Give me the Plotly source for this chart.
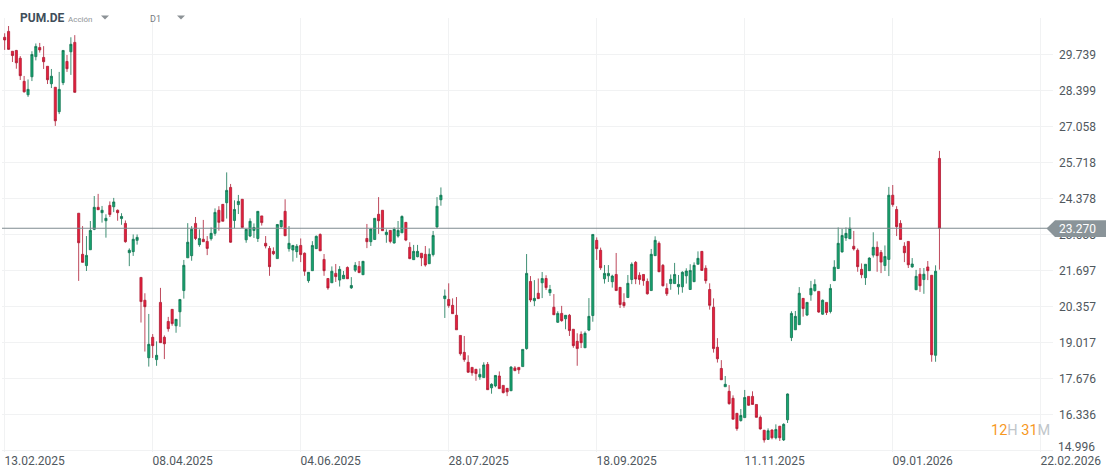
import plotly.graph_objects as go

# daily candles
opens = [
    30.38, 30.60, 29.86, 29.89, 29.60, 28.74, 28.24, 28.91, 29.66, 30.00,
    29.63, 29.30, 28.65, 28.52, 27.61, 28.69, 29.48, 29.84, 30.19, 23.83,
    22.30, 21.88, 22.47, 23.23, 24.05, 23.85, 23.55, 24.12, 24.07, 23.94,
    23.63, 23.45, 22.36, 22.40, 22.82, 21.44, 20.59, 18.45, 19.21, 18.38,
    20.51, 19.21, 19.80, 20.25, 19.64, 20.16, 20.95, 22.17, 22.25, 23.45,
    22.66, 22.86, 22.78, 22.88, 23.08, 23.94, 24.16, 24.22, 24.79, 23.56,
    24.15, 24.35, 22.84, 22.98, 23.19, 22.89, 23.73, 22.71, 22.52, 22.41,
    22.14, 23.33, 23.90, 22.51, 22.46, 22.40, 22.63, 22.34, 21.32, 21.69,
    22.51, 23.04, 22.11, 21.40, 21.24, 21.59, 21.34, 21.39, 21.81, 21.05,
    21.71, 21.85, 21.54, 22.89, 22.77, 22.85, 23.79, 23.94, 23.03, 23.19,
    22.72, 22.98, 23.10, 23.49, 22.56, 22.10, 22.21, 22.34, 22.30, 21.95,
    22.29, 23.32, 24.33, 20.65, 20.62, 20.40, 20.03, 19.28, 18.65, 18.28,
    18.09, 18.02, 17.73, 17.71, 18.20, 17.33, 17.40, 17.77, 17.42, 17.31,
    17.22, 18.07, 18.09, 18.12, 18.79, 21.29, 20.57, 20.85, 21.24, 21.40,
    20.87, 20.33, 19.77, 20.10, 19.90, 20.03, 19.51, 19.06, 19.32, 18.82,
    19.48, 20.02, 22.82, 22.45, 21.39, 21.50, 21.28, 21.55, 21.07, 20.51,
    20.69, 21.36, 22.00, 21.52, 21.55, 21.29, 20.95, 22.25, 22.71, 21.89,
    21.03, 21.21, 21.21, 21.09, 21.09, 21.50, 20.99, 21.28, 21.93, 22.41,
    21.78, 20.99, 20.33, 18.84, 18.05, 17.37, 17.20, 16.94, 16.38, 16.11,
    16.22, 17.01, 17.01, 16.71, 16.23, 15.75, 15.41, 15.76, 15.47, 15.90,
    15.39, 16.14, 19.20, 19.49, 19.68, 20.66, 20.04, 20.79, 20.95, 20.92,
    20.07, 20.51, 20.17, 21.32, 21.77, 22.39, 22.91, 22.88, 22.60, 22.45,
    21.74, 21.43, 21.69, 22.27, 22.56, 22.37, 21.88, 22.11, 24.50, 23.97,
    23.45, 22.60, 22.78, 21.83, 20.98, 21.56, 21.36, 21.83, 21.52, 18.54,
    25.87,
]
highs = [
    30.53, 30.80, 29.86, 29.91, 29.68, 28.94, 28.81, 29.86, 30.15, 30.17,
    30.05, 29.30, 29.20, 28.52, 29.09, 29.89, 29.72, 30.38, 30.46, 23.83,
    23.35, 22.98, 23.54, 24.47, 24.55, 24.10, 23.79, 24.27, 24.40, 23.97,
    23.83, 23.56, 22.52, 23.04, 23.04, 21.44, 20.85, 20.08, 19.33, 19.06,
    21.05, 19.28, 19.97, 20.25, 19.88, 20.62, 22.09, 23.46, 23.35, 23.69,
    23.23, 23.58, 22.98, 23.30, 24.01, 24.09, 24.16, 25.35, 24.92, 24.31,
    24.51, 24.35, 23.23, 23.64, 23.45, 23.90, 23.73, 22.98, 22.61, 22.56,
    23.43, 23.58, 24.35, 23.35, 22.65, 22.68, 22.89, 22.37, 21.64, 22.79,
    23.00, 23.08, 22.31, 21.40, 21.85, 21.94, 21.86, 21.68, 21.85, 21.45,
    22.01, 22.05, 22.04, 23.43, 23.27, 23.64, 24.43, 23.94, 23.23, 23.20,
    23.30, 23.54, 23.75, 23.49, 22.75, 22.65, 22.65, 22.34, 22.61, 22.52,
    23.17, 24.43, 24.79, 20.99, 21.22, 20.66, 20.71, 19.28, 19.26, 18.54,
    18.09, 18.02, 18.05, 18.28, 18.29, 17.50, 17.80, 17.94, 17.42, 17.32,
    18.14, 18.14, 18.09, 18.76, 22.31, 21.49, 21.34, 21.40, 21.64, 21.52,
    21.16, 20.82, 20.18, 20.38, 20.04, 20.08, 19.51, 19.36, 19.43, 19.43,
    20.67, 23.04, 22.93, 22.55, 21.90, 21.90, 21.54, 22.35, 21.07, 20.85,
    21.53, 22.00, 22.05, 21.63, 21.55, 21.40, 22.50, 22.97, 22.78, 21.94,
    21.22, 21.55, 21.98, 21.53, 21.67, 21.78, 21.93, 22.00, 22.41, 22.41,
    21.89, 21.22, 20.66, 19.18, 18.36, 17.77, 17.43, 17.05, 16.38, 16.54,
    17.25, 17.01, 17.20, 16.71, 16.30, 15.76, 15.82, 15.78, 15.97, 15.91,
    16.01, 17.12, 20.18, 20.19, 21.08, 20.66, 20.52, 21.31, 21.37, 20.92,
    20.62, 20.51, 21.19, 22.08, 23.30, 23.25, 23.30, 23.68, 23.17, 22.52,
    21.96, 21.93, 22.19, 23.12, 22.78, 22.46, 22.63, 24.81, 24.88, 24.09,
    23.57, 22.75, 22.78, 22.16, 21.72, 21.79, 21.79, 22.05, 21.52, 21.89,
    26.15,
]
lows = [
    29.91, 29.91, 29.46, 29.21, 28.79, 28.32, 28.16, 28.75, 29.52, 29.81,
    29.20, 28.64, 28.49, 27.08, 27.52, 28.60, 29.09, 28.98, 28.32, 21.31,
    21.99, 21.68, 22.47, 23.20, 23.95, 23.48, 22.92, 23.69, 23.87, 23.55,
    23.40, 22.73, 21.86, 22.24, 22.66, 19.76, 18.68, 18.12, 18.44, 18.15,
    19.01, 18.40, 19.42, 19.64, 19.38, 19.60, 20.65, 22.17, 22.06, 22.83,
    22.58, 22.77, 22.27, 22.81, 22.99, 23.18, 23.53, 23.63, 22.73, 23.27,
    23.80, 23.30, 22.73, 22.94, 22.91, 22.76, 23.37, 22.52, 21.50, 22.27,
    22.14, 23.29, 22.99, 22.40, 22.03, 22.17, 22.01, 21.50, 21.24, 21.69,
    22.50, 22.43, 21.50, 20.98, 21.24, 21.27, 21.10, 21.38, 21.38, 21.01,
    21.64, 21.60, 21.54, 22.53, 22.61, 22.85, 23.06, 23.18, 22.73, 22.71,
    22.70, 22.92, 23.10, 22.79, 22.12, 22.10, 22.19, 21.86, 21.84, 21.95,
    22.22, 23.27, 24.11, 19.93, 20.31, 20.09, 19.49, 18.53, 18.30, 17.89,
    17.78, 17.59, 17.63, 17.71, 17.26, 17.11, 17.35, 17.30, 17.12, 17.02,
    17.22, 17.95, 17.85, 18.12, 18.75, 20.52, 20.37, 20.64, 20.67, 20.97,
    20.75, 20.05, 19.75, 19.79, 19.51, 19.26, 18.82, 18.15, 18.81, 18.82,
    19.44, 19.79, 22.09, 21.72, 21.21, 21.27, 21.06, 20.95, 20.30, 20.31,
    20.69, 21.19, 21.19, 21.17, 21.13, 20.80, 20.95, 22.25, 21.65, 21.10,
    20.75, 20.98, 21.21, 20.80, 20.87, 21.21, 20.99, 21.28, 21.93, 21.70,
    21.21, 20.24, 18.64, 18.27, 17.62, 17.37, 16.70, 16.16, 15.73, 16.07,
    16.22, 16.66, 16.71, 16.23, 15.77, 15.29, 15.39, 15.41, 15.41, 15.35,
    15.35, 16.02, 19.07, 19.49, 19.68, 19.98, 20.00, 20.57, 20.91, 20.12,
    20.05, 20.04, 20.10, 21.32, 21.77, 22.36, 22.80, 22.88, 22.44, 21.65,
    21.41, 21.16, 21.69, 22.18, 21.65, 21.60, 21.68, 21.49, 24.07, 22.98,
    22.85, 22.01, 21.79, 21.80, 20.98, 20.90, 20.83, 21.34, 18.30, 18.30,
    21.73,
]
closes = [
    30.28, 29.93, 29.70, 29.43, 28.95, 28.35, 28.44, 29.74, 30.04, 29.91,
    29.47, 28.80, 28.93, 27.27, 28.44, 29.89, 29.21, 30.12, 28.33, 22.73,
    22.00, 22.26, 23.19, 24.05, 23.96, 23.94, 23.64, 23.78, 24.25, 23.85,
    23.71, 22.77, 22.45, 22.86, 22.93, 20.54, 20.35, 18.95, 18.90, 18.54,
    19.01, 18.97, 19.53, 19.72, 19.88, 20.62, 21.89, 22.75, 23.23, 22.89,
    22.89, 22.77, 22.52, 23.08, 23.86, 23.49, 23.53, 24.68, 22.75, 23.97,
    24.27, 23.30, 23.23, 23.53, 23.30, 23.90, 23.48, 22.61, 21.84, 22.32,
    23.41, 23.56, 22.99, 22.71, 22.63, 22.60, 22.29, 21.67, 21.63, 22.63,
    22.97, 22.43, 21.69, 21.05, 21.67, 21.47, 21.74, 21.52, 21.39, 21.14,
    21.89, 21.62, 22.04, 22.77, 23.24, 23.64, 23.55, 23.18, 23.12, 22.78,
    23.23, 23.19, 23.71, 22.83, 22.14, 22.41, 22.41, 22.17, 21.90, 22.30,
    23.00, 24.09, 24.50, 20.75, 20.39, 20.09, 19.49, 18.60, 18.38, 17.91,
    17.89, 17.86, 17.83, 18.18, 17.26, 17.46, 17.79, 17.30, 17.15, 17.18,
    18.10, 17.97, 18.00, 18.76, 21.59, 20.60, 20.66, 20.65, 21.40, 21.06,
    20.99, 20.05, 20.10, 19.83, 20.03, 19.46, 18.90, 18.79, 19.01, 19.36,
    19.99, 23.04, 22.51, 21.80, 21.59, 21.59, 21.49, 20.95, 20.43, 20.39,
    21.22, 21.93, 21.38, 21.36, 21.32, 20.83, 22.30, 22.82, 21.65, 21.13,
    20.83, 21.37, 21.55, 21.18, 21.63, 21.68, 21.70, 21.89, 22.15, 21.70,
    21.32, 20.40, 18.79, 18.41, 17.63, 17.46, 16.74, 16.16, 15.81, 16.30,
    16.97, 16.68, 16.71, 16.23, 15.80, 15.39, 15.73, 15.47, 15.78, 15.47,
    15.97, 17.10, 20.10, 19.99, 20.85, 20.28, 20.51, 21.03, 21.18, 20.15,
    20.59, 20.13, 21.03, 21.82, 22.71, 23.00, 23.08, 23.27, 22.50, 21.84,
    21.54, 21.93, 22.16, 22.56, 22.25, 22.01, 22.22, 24.50, 24.15, 23.33,
    22.85, 22.36, 21.91, 21.94, 21.48, 21.13, 21.56, 21.69, 18.56, 21.67,
    23.27,
]

date_ticks = [0, 38, 76, 114, 152, 190, 228, 266]
date_labels = ['13.02.2025', '08.04.2025', '04.06.2025', '28.07.2025',
               '18.09.2025', '11.11.2025', '09.01.2026', '22.02.2026']
price_ticks = [29.739, 28.399, 27.058, 25.718, 24.378, 23.038,
               21.697, 20.357, 19.017, 17.676, 16.336, 14.996]
price_labels = ['29.739', '28.399', '27.058', '25.718', '24.378', '23.038',
                '21.697', '20.357', '19.017', '17.676', '16.336', '']
last_price = 23.270
bottom_label = '14.996'

W, H = 1119, 476
LEFT, RIGHT, TOP, BOTTOM = 2, 1053, 18, 452
GRID = '#f1f2f3'
TEXT = '#50585e'
TAG = '#8a9499'


# screen pixels to paper fractions, for the bits of chrome around the chart
def px(x):
    return (x - LEFT) / (RIGHT - LEFT)


def py(y):
    return (BOTTOM - y) / (BOTTOM - TOP)


def poly(points):
    return 'M' + ' L'.join(f'{px(x):.5f},{py(y):.5f}' for x, y in points) + ' Z'


fig = go.Figure(go.Candlestick(
    x=list(range(len(opens))),
    open=opens, high=highs, low=lows, close=closes,
    whiskerwidth=0,
    increasing=dict(fillcolor='#17a56f', line=dict(color='#0f7350', width=0.8)),
    decreasing=dict(fillcolor='#e81f3c', line=dict(color='#ad1c33', width=0.8)),
    hoverinfo='skip',
))

# white box behind the symbol header, hides the gridlines there
fig.add_shape(type='rect', xref='paper', yref='paper', layer='between',
              x0=px(12), x1=px(200), y0=py(32), y1=py(TOP - 1),
              fillcolor='white', line_width=0)

# last price line and its tag
fig.add_shape(type='line', xref='paper', yref='y', x0=0, x1=px(1048),
              y0=last_price, y1=last_price, line=dict(color='#7f8b90', width=1.1))
fig.add_shape(type='path', xref='paper', yref='paper', layer='above',
              path=poly([(1046.5, 228.6), (1055, 220.3), (1106, 220.3), (1106, 237), (1055, 237)]),
              fillcolor=TAG, line_width=0)

# dropdown triangles
for x0 in [101, 177]:
    fig.add_shape(type='path', xref='paper', yref='paper', layer='above',
                  path=poly([(x0, 15.5), (x0 + 8, 15.5), (x0 + 4, 19.5)]),
                  fillcolor='#8c9296', line_width=0)


def label(x, y, text, size, color, anchor='left', bold=False):
    fig.add_annotation(xref='paper', yref='paper', x=px(x), y=py(y), text=text,
                       showarrow=False, xanchor=anchor, yanchor='middle',
                       xshift=0, borderpad=0, borderwidth=0,
                       font=dict(family='Roboto', size=size, color=color,
                                 weight='bold' if bold else 'normal'))


label(20, 18.5, 'PUM.DE', 12, '#3f4e5a', bold=True)
label(68, 19, 'Acción', 8, '#8f9498')
label(150, 19, 'D1', 9, '#767c81')
label(1059, 229, f'{last_price:.3f}', 12, 'white')
label(1058, 446.7, bottom_label, 12, TEXT)
label(991, 430,
      '<span style="color:#f7981d">12</span><span style="color:#c0c6ca">H</span> '
      '<span style="color:#f7981d">31</span><span style="color:#c0c6ca">M</span>',
      14.5, '#c0c6ca')

fig.update_layout(
    width=W, height=H,
    margin=dict(l=LEFT, r=W - RIGHT, t=TOP, b=H - BOTTOM),
    paper_bgcolor='white', plot_bgcolor='white',
    showlegend=False,
    boxgap=0.22,
    font=dict(family='Roboto', size=12, color=TEXT),
)
fig.update_xaxes(
    range=[-0.685, 269.15], rangeslider_visible=False,
    tickvals=date_ticks, ticktext=date_labels, tickangle=0,
    gridcolor=GRID, gridwidth=1, zeroline=False, showline=False,
    ticks='', ticklabelshift=30, ticklabelstandoff=0, ticklabeloverflow='allow',
)
fig.update_yaxes(
    range=[14.94, 31.098], side='right',
    tickvals=price_ticks, ticktext=price_labels,
    gridcolor=GRID, gridwidth=1, zeroline=False, showline=False,
    ticks='', ticklabelstandoff=5,
)

fig.write_html('out.html', config=dict(displayModeBar=False),
               post_script="document.body.style.margin='0'")
